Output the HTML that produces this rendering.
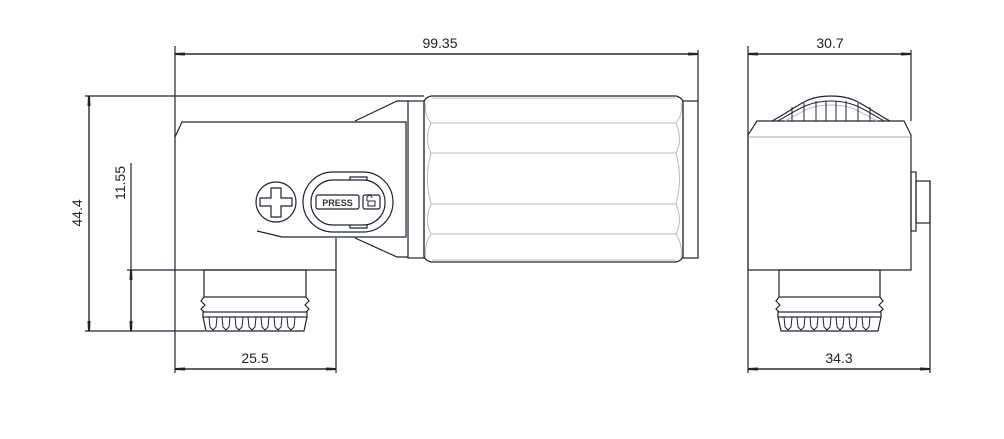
<!DOCTYPE html>
<html><head><meta charset="utf-8"><style>
html,body{margin:0;padding:0;background:#fff;}
svg{display:block;}
text{font-family:"Liberation Sans",sans-serif;font-size:14px;fill:#222;}
</style></head><body>
<svg width="1004" height="439" viewBox="0 0 1004 439" xmlns="http://www.w3.org/2000/svg">
<defs>
<marker id="ar" markerWidth="10" markerHeight="6" refX="10" refY="3" orient="auto" markerUnits="userSpaceOnUse">
<path d="M0,1.5 L10,2 L10,4 L0,4.5 Z" fill="#222"/>
</marker>
</defs>
<g fill="none" stroke="#1f2530" stroke-width="1.2">
<line x1="175" y1="46" x2="175" y2="373"/>
<line x1="698" y1="50" x2="698" y2="101"/>
<line x1="85" y1="96" x2="424" y2="96"/>
<line x1="85" y1="331" x2="205" y2="331"/>
<line x1="127" y1="270" x2="175" y2="270"/>
<line x1="336" y1="238" x2="336" y2="373"/>
<line x1="748" y1="46" x2="748" y2="373"/>
<line x1="911" y1="50" x2="911" y2="121"/>
<line x1="930" y1="181" x2="930" y2="373"/>
<line x1="175" y1="54" x2="698" y2="54" marker-end="url(#ar)"/>
<line x1="698" y1="54" x2="175" y2="54" marker-end="url(#ar)"/>
<line x1="89" y1="96" x2="89" y2="331" marker-end="url(#ar)"/>
<line x1="89" y1="331" x2="89" y2="96" marker-end="url(#ar)"/>
<line x1="131" y1="163" x2="131" y2="331" marker-end="url(#ar)"/>
<line x1="131" y1="331" x2="131" y2="270" marker-end="url(#ar)"/>
<line x1="175" y1="369" x2="336" y2="369" marker-end="url(#ar)"/>
<line x1="336" y1="369" x2="175" y2="369" marker-end="url(#ar)"/>
<line x1="748" y1="54" x2="911" y2="54" marker-end="url(#ar)"/>
<line x1="911" y1="54" x2="748" y2="54" marker-end="url(#ar)"/>
<line x1="748" y1="369" x2="930" y2="369" marker-end="url(#ar)"/>
<line x1="930" y1="369" x2="748" y2="369" marker-end="url(#ar)"/>

<path d="M175,137 L182,122 L406,122 L406,237 L282,237 Q270,234 257,231"/>
<line x1="175" y1="270" x2="336" y2="270"/>
<path d="M355,121 L397,101 L408,101 M355,238 L397,257 L408,257"/>
<rect x="408" y="101" width="16" height="157"/>
<path d="M431,96 L676,96 Q683,98 683,103 L683,255 Q683,260 676,262 L431,262 Q424,260 424,255 L424,103 Q424,98 431,96 Z"/>
<rect x="683" y="101" width="15" height="157"/>
<g stroke="#bbb" stroke-width="1">
<line x1="432" y1="98" x2="676" y2="98"/>
<line x1="432" y1="260" x2="676" y2="260"/>
<line x1="431" y1="123" x2="676" y2="123"/>
<line x1="431" y1="153" x2="676" y2="153"/>
<line x1="431" y1="204" x2="676" y2="204"/>
<line x1="431" y1="234" x2="676" y2="234"/>
<path d="M431,123 Q424,115 426,103 M676,123 Q683,115 681,103 M431,153 Q424,140 431,123 M676,153 Q683,140 676,123 M431,153 Q424,178 431,204 M676,153 Q683,178 676,204 M431,234 Q424,220 431,204 M676,234 Q683,220 676,204 M431,234 Q424,245 426,257 M676,234 Q683,245 681,257"/>
</g>
<circle cx="276" cy="202" r="20"/>
<path d="M271,188 L281,188 L281,198 L292,198 L292,206 L281,206 L281,217 L271,217 L271,206 L260,206 L260,198 L271,198 Z"/>
<rect x="303" y="172" width="90" height="60" rx="30"/>
<rect x="311" y="180" width="74" height="45" rx="22"/>
<rect x="316" y="195" width="43" height="14" rx="2"/>
<rect x="363" y="195" width="17" height="14" rx="2"/>
<path d="M367,201 v-3 a2.5,2.5 0 0 1 5,0 M368,201 h7 v5 h-7 Z" stroke-width="1"/>
<path d="M350,180 L350,177 L367,177 L367,180 M350,225 L350,228 L367,228 L367,225"/>
<rect x="204" y="270" width="102" height="27"/>
<path d="M204,297 l-3,4 l4,4 l-4,4 l3,3 M306,297 l3,4 l-4,4 l4,4 l-3,3"/>
<rect x="203" y="312" width="104" height="5"/>
<path d="M203,317 L206,331 L304,331 L307,317"/>
<path d="M209,317 l1,10 l3,3 l3,-3 l1,-10 M222,317 l1,10 l3,3 l3,-3 l1,-10 M235,317 l1,10 l3,3 l3,-3 l1,-10 M248,317 l1,10 l3,3 l3,-3 l1,-10 M261,317 l1,10 l3,3 l3,-3 l1,-10 M274,317 l1,10 l3,3 l3,-3 l1,-10 M287,317 l1,10 l3,3 l3,-3 l1,-10" stroke-width="1"/>

<path d="M748,135 L757,121 L904,121 L911,135 L911,270 L748,270 Z"/>
<line x1="749" y1="137" x2="910" y2="137" stroke="#bbb"/>
<path d="M772,121 C800,106 805,96 831,96 C857,96 862,106 890,121"/>
<path d="M778,121 C800,108 810,101 831,101 C852,101 862,108 884,121" stroke-width="1"/>
<path d="M785,121 C805,110 812,105 831,105 C850,105 857,110 877,121" stroke="#bbb" stroke-width="1"/>
<path d="M792,107 v14 M804,103 v18 M816,101 v20 M826,101 v20 M836,101 v20 M846,101 v20 M858,103 v18 M870,107 v14" stroke-width="1"/>
<rect x="911" y="172" width="5" height="59"/>
<rect x="916" y="181" width="14" height="42"/>
<rect x="779" y="270" width="101" height="27"/>
<path d="M779,297 l-3,4 l4,4 l-4,4 l3,3 M880,297 l3,4 l-4,4 l4,4 l-3,3"/>
<rect x="778" y="312" width="103" height="5"/>
<path d="M778,317 L781,331 L878,331 L881,317"/>
<path d="M784,317 l1,10 l3,3 l3,-3 l1,-10 M797,317 l1,10 l3,3 l3,-3 l1,-10 M810,317 l1,10 l3,3 l3,-3 l1,-10 M823,317 l1,10 l3,3 l3,-3 l1,-10 M836,317 l1,10 l3,3 l3,-3 l1,-10 M849,317 l1,10 l3,3 l3,-3 l1,-10 M862,317 l1,10 l3,3 l3,-3 l1,-10" stroke-width="1"/>
</g>
<text x="337.5" y="206" text-anchor="middle" style="font-size:9px;font-weight:bold;fill:#333">PRESS</text>
<text x="440" y="48" text-anchor="middle">99.35</text>
<text x="830" y="48" text-anchor="middle">30.7</text>
<text x="255" y="363" text-anchor="middle">25.5</text>
<text x="839" y="363" text-anchor="middle">34.3</text>
<text transform="translate(82,213) rotate(-90)" text-anchor="middle">44.4</text>
<text transform="translate(125,183) rotate(-90)" text-anchor="middle">11.55</text>
</svg>
</body></html>
